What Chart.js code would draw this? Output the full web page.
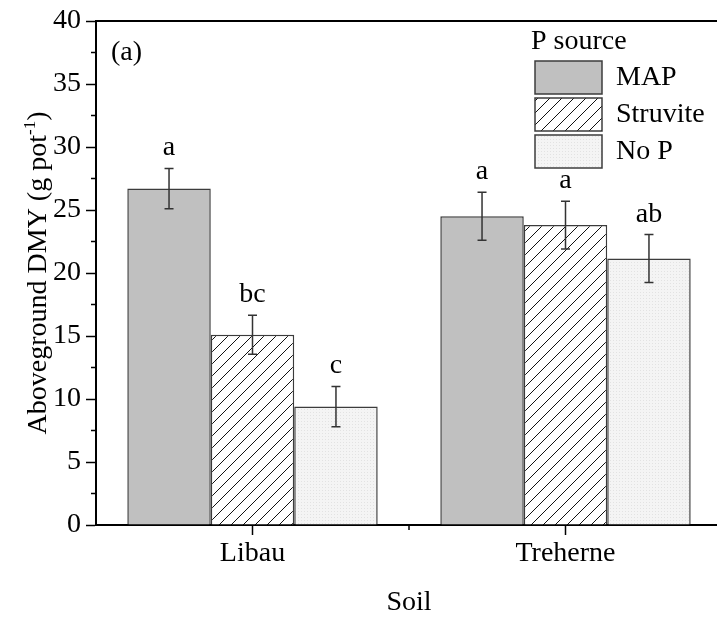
<!DOCTYPE html>
<html>
<head>
<meta charset="utf-8">
<title>Aboveground DMY by soil and P source</title>
<script src="https://cdn.jsdelivr.net/npm/chart.js@4/dist/chart.umd.min.js"></script>
<style>
  html, body { margin: 0; padding: 0; background: #fff; overflow: hidden; }
  #wrap { position: absolute; left: 0; top: 0; width: 724px; height: 619px; }
</style>
</head>
<body>
<div id="wrap"><canvas id="chart"></canvas></div>
<script>
// Soils on the x axis and P sources as grouped series
const soils = ['Libau', 'Treherne'];
const sources = ['MAP', 'Struvite', 'No P'];

// Mean aboveground dry matter yield (g pot-1), standard errors and mean-separation letters
const mapMean = [26.7, 24.5];
const mapSE = [1.6, 1.9];
const mapLetters = ['a', 'a'];

const struviteMean = [15.1, 23.8];
const struviteSE = [1.55, 1.9];
const struviteLetters = ['bc', 'a'];

const noPMean = [9.4, 21.15];
const noPSE = [1.6, 1.9];
const noPLetters = ['c', 'ab'];

// Y axis labelled ticks
const yTickValues = [0, 5, 10, 15, 20, 25, 30, 35, 40];

const FONT = '"Liberation Serif", "Times New Roman", serif';
const INK = '#000';
const EDGE = '#3c3c3c';

const canvas = document.getElementById('chart');
const ctx = canvas.getContext('2d');

// Diagonal hatch fill for struvite
function hatchPattern() {
  const s = 12;
  const c = document.createElement('canvas');
  c.width = s; c.height = s;
  const g = c.getContext('2d');
  g.fillStyle = '#fff';
  g.fillRect(0, 0, s, s);
  g.strokeStyle = '#111';
  g.lineWidth = 1;
  g.beginPath();
  g.moveTo(-1, s + 1); g.lineTo(s + 1, -1);
  g.moveTo(-1, 1); g.lineTo(1, -1);
  g.moveTo(s - 1, s + 1); g.lineTo(s + 1, s - 1);
  g.stroke();
  return ctx.createPattern(c, 'repeat');
}

// Fine light stipple for the no-P control
function stipplePattern() {
  const s = 6;
  const c = document.createElement('canvas');
  c.width = s; c.height = s;
  const g = c.getContext('2d');
  g.fillStyle = '#f4f4f4';
  g.fillRect(0, 0, s, s);
  g.fillStyle = '#e2e2e2';
  g.fillRect(1, 1, 1, 1);
  g.fillRect(4, 4, 1, 1);
  g.fillRect(4, 1, 1, 1);
  g.fillRect(1, 4, 1, 1);
  return ctx.createPattern(c, 'repeat');
}

const seriesMeans = [mapMean, struviteMean, noPMean];
const seriesSE = [mapSE, struviteSE, noPSE];
const seriesLetters = [mapLetters, struviteLetters, noPLetters];
const fills = ['#c0c0c0', hatchPattern(), stipplePattern()];

const datasets = sources.map((name, i) => ({
  label: name,
  data: seriesMeans[i],
  backgroundColor: fills[i],
  borderColor: EDGE,
  borderWidth: 1.5,
  categoryPercentage: 0.8,
  barPercentage: 1.0
}));

// Puts the legend in the upper right of the plot area
const legendPlacer = {
  id: 'legendPlacer',
  afterLayout(chart) {
    const lg = chart.legend;
    const a = chart.chartArea;
    if (!lg) return;
    lg.left = a.left + 435;
    lg.right = lg.left + lg.width;
    lg.top = a.top;
    lg.bottom = a.bottom;
    lg.height = a.bottom - a.top;
  }
};

// Error bars and letters above each bar
const errorBars = {
  id: 'errorBars',
  afterDatasetsDraw(chart) {
    const c = chart.ctx;
    const y = chart.scales.y;
    c.save();
    chart.data.datasets.forEach((ds, i) => {
      const meta = chart.getDatasetMeta(i);
      meta.data.forEach((bar, j) => {
        const v = seriesMeans[i][j];
        const e = seriesSE[i][j];
        const yt = y.getPixelForValue(v + e);
        const yb = y.getPixelForValue(v - e);
        const x = bar.x;
        c.strokeStyle = '#333';
        c.lineWidth = 1.5;
        c.beginPath();
        c.moveTo(x, yt); c.lineTo(x, yb);
        c.moveTo(x - 4.5, yt); c.lineTo(x + 4.5, yt);
        c.moveTo(x - 4.5, yb); c.lineTo(x + 4.5, yb);
        c.stroke();
        c.fillStyle = INK;
        c.font = '28px ' + FONT;
        c.textAlign = 'center';
        c.textBaseline = 'alphabetic';
        c.fillText(seriesLetters[i][j], x, yt - 13);
      });
    });
    c.restore();
  }
};

// Box frame, minor ticks, panel tag and the y-axis title with superscript
const decorations = {
  id: 'decorations',
  afterDraw(chart) {
    const c = chart.ctx;
    const a = chart.chartArea;
    const xs = chart.scales.x;
    const ys = chart.scales.y;
    c.save();
    c.strokeStyle = INK;
    c.lineWidth = 2;
    c.beginPath();
    c.moveTo(a.left, a.top); c.lineTo(a.right, a.top); c.lineTo(a.right, a.bottom);
    c.stroke();

    c.lineWidth = 1.5;
    c.beginPath();
    for (let k = 0; k < yTickValues.length - 1; k++) {
      const py = ys.getPixelForValue((yTickValues[k] + yTickValues[k + 1]) / 2);
      c.moveTo(a.left - 5, py); c.lineTo(a.left, py);
    }
    for (let k = 0; k < soils.length - 1; k++) {
      const px = (xs.getPixelForValue(k) + xs.getPixelForValue(k + 1)) / 2;
      c.moveTo(px, a.bottom); c.lineTo(px, a.bottom + 5);
    }
    c.stroke();

    c.fillStyle = INK;
    c.font = '28px ' + FONT;
    c.textAlign = 'left';
    c.textBaseline = 'alphabetic';
    c.fillText('(a)', a.left + 15, a.top + 39);

    const main = 'Aboveground DMY (g pot';
    const sup = '-1';
    const tail = ')';
    const big = '28px ' + FONT;
    const small = '17px ' + FONT;
    c.font = big;
    const w1 = c.measureText(main).width;
    const w3 = c.measureText(tail).width;
    c.font = small;
    const w2 = c.measureText(sup).width;
    const total = w1 + w2 + w3;
    c.translate(46, (a.top + a.bottom) / 2);
    c.rotate(-Math.PI / 2);
    let tx = -total / 2;
    c.font = big; c.fillText(main, tx, 0); tx += w1;
    c.font = small; c.fillText(sup, tx, -11); tx += w2;
    c.font = big; c.fillText(tail, tx, 0);
    c.restore();
  }
};

new Chart(canvas, {
  type: 'bar',
  data: { labels: soils, datasets },
  plugins: [legendPlacer, errorBars, decorations],
  options: {
    responsive: true,
    maintainAspectRatio: false,
    devicePixelRatio: 1,
    animation: false,
    layout: { padding: { top: 21, right: 2, left: 0, bottom: 0 } },
    plugins: {
      tooltip: { enabled: false },
      legend: {
        position: 'chartArea',
        align: 'start',
        labels: {
          boxWidth: 67,
          boxHeight: 33,
          padding: 4,
          color: INK,
          font: { family: FONT, size: 28 }
        },
        title: {
          display: true,
          text: 'P source',
          position: 'start',
          color: INK,
          font: { family: FONT, size: 28, lineHeight: 1 },
          padding: { top: 7, bottom: 1 }
        }
      }
    },
    scales: {
      x: {
        type: 'category',
        offset: true,
        grid: { offset: false, drawOnChartArea: false, drawTicks: true, tickLength: 10, tickColor: INK, tickWidth: 1.5 },
        border: { display: true, color: INK, width: 2 },
        ticks: { color: INK, font: { family: FONT, size: 28, lineHeight: 1 }, padding: 5, maxRotation: 0, autoSkip: false },
        title: { display: true, text: 'Soil', color: INK, font: { family: FONT, size: 28, lineHeight: 1 }, padding: { top: 0, bottom: 2 } },
        afterFit(s) { s.height = 94; }
      },
      y: {
        min: 0,
        max: 40,
        afterBuildTicks(s) { s.ticks = yTickValues.map(v => ({ value: v })); },
        grid: { drawOnChartArea: false, drawTicks: true, tickLength: 10, tickColor: INK, tickWidth: 1.5 },
        border: { display: true, color: INK, width: 2 },
        ticks: { color: INK, font: { family: FONT, size: 28, lineHeight: 1 }, padding: 5 },
        afterFit(s) { s.width = 96; }
      }
    }
  }
});
</script>
</body>
</html>
